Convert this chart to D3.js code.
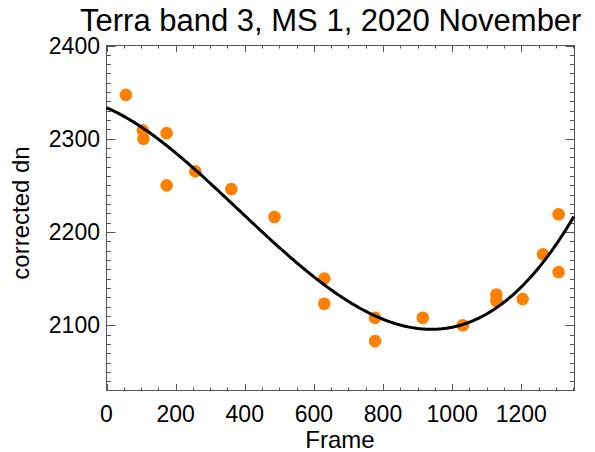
<!DOCTYPE html>
<html><head><meta charset="utf-8">
<script src="https://cdn.jsdelivr.net/npm/d3@7"></script>
<style>body{margin:0;background:#fff}svg{display:block}text{font-family:"Liberation Sans",Arial,sans-serif;fill:#000}</style>
</head><body><svg id="c" width="595" height="452"></svg>
<script>
const title = "Terra band 3, MS 1, 2020 November";
const xLabel = "Frame", yLabel = "corrected dn";
const frames = [56,105,107,174,174,257,361,486,630,630,777,777,915,1031,1128,1128,1204,1263,1308,1308];
const dn = [2347,2309,2300,2306,2250,2265,2246,2216,2150,2123,2108,2083,2108,2100,2133,2126,2128,2176,2219,2157];
const fitX = [0,57,107,192,257,337,433,505,573,676,773,850,932,1033,1120,1197,1264,1313,1354];
const fitY = [2334,2324,2309,2286,2265.5,2240,2207.5,2184,2161,2130.5,2108,2099.4,2096.6,2100,2118,2139.5,2170,2193.2,2216.4];
const xTicks = [0,200,400,600,800,1000,1200];
const yTicks = [2100,2200,2300,2400];
const xDomain = [0,1354], yDomain = [2030,2400];

// smooth the sampled curve with a least-squares polynomial (degree 4)
function polyfit(xs, ys, deg, s){
  const n=deg+1, A=Array.from({length:n},()=>Array(n+1).fill(0));
  xs.forEach((xv,k)=>{const t=xv/s;for(let i=0;i<n;i++){for(let j=0;j<n;j++)A[i][j]+=Math.pow(t,i+j);A[i][n]+=ys[k]*Math.pow(t,i);}});
  for(let i=0;i<n;i++){let p=i;for(let r=i+1;r<n;r++)if(Math.abs(A[r][i])>Math.abs(A[p][i]))p=r;[A[i],A[p]]=[A[p],A[i]];
    for(let r=0;r<n;r++)if(r!==i){const f=A[r][i]/A[i][i];for(let c=i;c<=n;c++)A[r][c]-=f*A[i][c];}}
  const c=A.map((row,i)=>row[n]/row[i]);
  return xv=>{const t=xv/s;return c.reduce((a,ci,i)=>a+ci*Math.pow(t,i),0);};
}
const fitFn = polyfit(fitX, fitY, 4, 1354);

const svg = d3.select("#c");
const L=106.5, R=574.5, T=45.5, B=390.5;
const x = d3.scaleLinear().domain(xDomain).range([L,R]);
const y = d3.scaleLinear().domain(yDomain).range([B,T]);
const ax = "#555";
svg.append("rect").attr("x",L).attr("y",T).attr("width",R-L).attr("height",B-T).attr("fill","none").attr("stroke",ax).attr("stroke-width",1);
const xMinor = d3.range(50,1354,50).filter(v=>v%200!==0);
const yMinor = d3.range(2040,2400,10).filter(v=>v%100!==0);
function ticks(vals, len, isX){
  vals.forEach(v=>{
    if(isX){
      const p=Math.round(x(v))+0.5;
      svg.append("line").attr("x1",p).attr("x2",p).attr("y1",B).attr("y2",B-len).attr("stroke",ax);
      svg.append("line").attr("x1",p).attr("x2",p).attr("y1",T).attr("y2",T+len).attr("stroke",ax);
    } else {
      const p=Math.round(y(v))+0.5;
      svg.append("line").attr("y1",p).attr("y2",p).attr("x1",L).attr("x2",L+len).attr("stroke",ax);
      svg.append("line").attr("y1",p).attr("y2",p).attr("x1",R).attr("x2",R-len).attr("stroke",ax);
    }
  });
}
ticks(xMinor,3,true); ticks(xTicks,6.5,true);
ticks(yMinor,4.5,false); ticks(yTicks,9,false);
xTicks.forEach(v=>svg.append("text").attr("x",x(v)).attr("y",422).attr("text-anchor","middle").attr("font-size",23).text(v));
yTicks.forEach(v=>svg.append("text").attr("x",100).attr("y",y(v)+8).attr("text-anchor","end").attr("font-size",23).text(v));
svg.append("text").attr("x",340).attr("y",448).attr("text-anchor","middle").attr("font-size",24).text(xLabel);
svg.append("text").attr("transform","translate(29,213) rotate(-90)").attr("text-anchor","middle").attr("font-size",24).text(yLabel);
svg.append("text").attr("x",80).attr("y",31).attr("font-size",31).text(title);
const pts = frames.map((f,i)=>({f,v:dn[i]}));
svg.append("g").selectAll("circle").data(pts).join("circle").attr("cx",d=>x(d.f)).attr("cy",d=>y(d.v)).attr("r",6.3).attr("fill","#ff8000");
const fit = d3.range(0,1355,4).map(f=>[f,fitFn(f)]);
svg.append("path").datum(fit).attr("d",d3.line().x(d=>x(d[0])).y(d=>y(d[1]))).attr("fill","none").attr("stroke","#000").attr("stroke-width",3);
</script></body></html>
